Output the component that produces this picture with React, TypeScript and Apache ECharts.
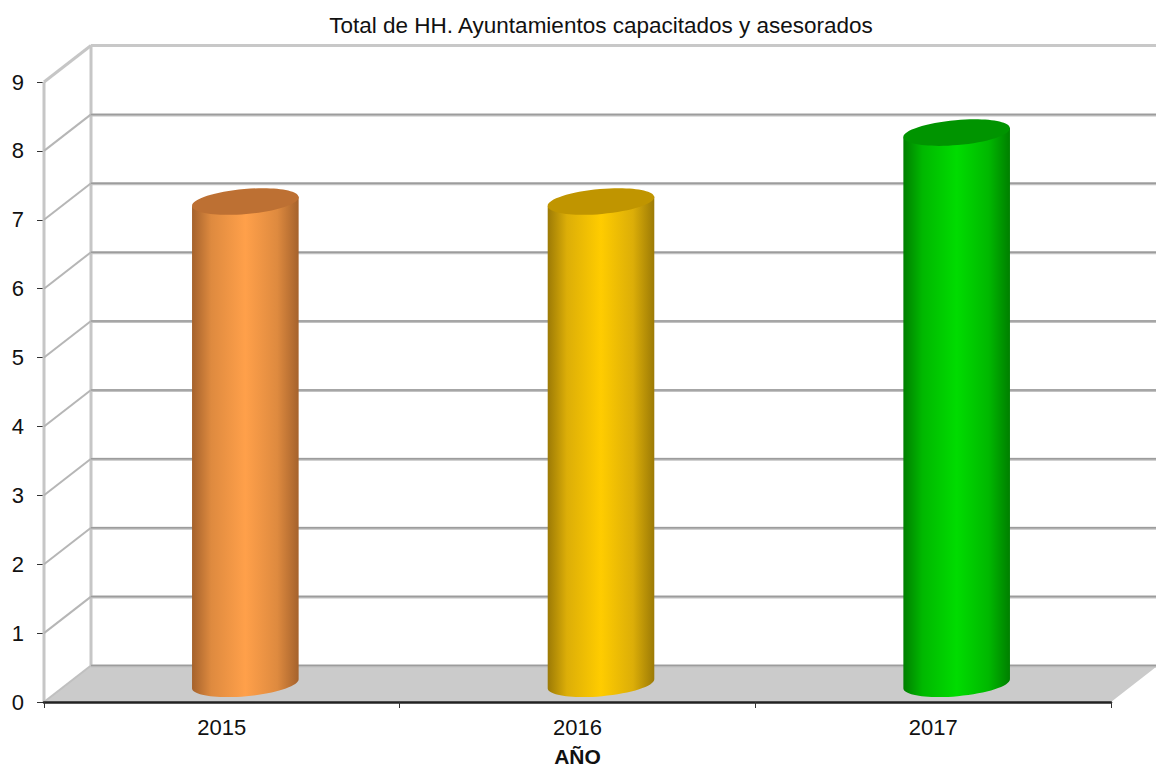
import React, { useEffect, useRef } from "react";
import * as echarts from "echarts";

const titleText = "Total de HH. Ayuntamientos capacitados y asesorados";
const axisName = "AÑO";
const categories = ["2015", "2016", "2017"];
const values = [7, 7, 8];
const yMax = 9;
const yTicks = [0, 1, 2, 3, 4, 5, 6, 7, 8, 9];

const palette = [
  { edge: "#a5622c", mid: "#de8a3f", core: "#ffa04a", cap: "#bd7033" },
  { edge: "#9c7a06", mid: "#dcae08", core: "#ffcc00", cap: "#c09500" },
  { edge: "#007f00", mid: "#00b800", core: "#00dc00", cap: "#009400" },
];

const DX = 47;
const DY = -36.5;
const RX = 53.5;
const RY = 12.5;
const TILT = (-5 * Math.PI) / 180;
const FONT = "'Liberation Sans', Arial, sans-serif";

function renderFrame(_: any, api: any) {
  const v = api.value(1);
  const p = api.coord([0, v]);
  const bw = api.size([1, 0])[0];
  const left = p[0] - bw / 2;
  const right = left + bw * categories.length;
  const y = p[1];
  const children: any[] = [];
  const line = (x1: number, y1: number, x2: number, y2: number, stroke: string, lineWidth: number) => ({
    type: "line",
    shape: { x1, y1, x2, y2 },
    style: { stroke, lineWidth, fill: "none" },
  });
  if (v === 0) {
    children.push({
      type: "polygon",
      shape: { points: [[left, y], [left + DX, y + DY], [right + DX, y + DY], [right, y]] },
      style: { fill: "#cbcbcb" },
    });
    const top = api.coord([0, yMax])[1];
    children.push(line(left, y, left, top, "#c6c6c6", 3));
    children.push(line(left + DX, y + DY, left + DX, top + DY, "#c6c6c6", 3));
  }
  if (v === yMax) {
    children.push(line(left, y, left + DX, y + DY, "#c6c6c6", 3));
    children.push(line(left + DX, y + DY, right + DX, y + DY, "#c8c8c8", 3));
  } else {
    children.push(line(left, y, left + DX, y + DY, v === 0 ? "#c0c0c0" : "#b6b6b6", 2));
    children.push(line(left + DX, y + DY + 0.5, right + DX, y + DY + 0.5, "#c2c2c2", 3));
    children.push(line(left + DX, y + DY, right + DX, y + DY, "#9c9c9c", 1.5));
  }
  return { type: "group", children };
}

// Ellipse arc as cubic segments, from parameter a to b (radians), in quarter steps.
function arcPath(cx: number, cy: number, a: number, b: number) {
  const cos = Math.cos(TILT);
  const sin = Math.sin(TILT);
  const pt = (u: number, w: number) => [cx + u * cos - w * sin, cy + u * sin + w * cos];
  const steps = Math.ceil(Math.abs(b - a) / (Math.PI / 2));
  const d = (b - a) / steps;
  const k = (4 / 3) * Math.tan(d / 4);
  let s = "";
  for (let i = 0; i < steps; i++) {
    const t0 = a + d * i;
    const t1 = t0 + d;
    const c1 = pt(RX * (Math.cos(t0) - k * Math.sin(t0)), RY * (Math.sin(t0) + k * Math.cos(t0)));
    const c2 = pt(RX * (Math.cos(t1) + k * Math.sin(t1)), RY * (Math.sin(t1) - k * Math.cos(t1)));
    const e = pt(RX * Math.cos(t1), RY * Math.sin(t1));
    s += `C ${c1[0]} ${c1[1]} ${c2[0]} ${c2[1]} ${e[0]} ${e[1]} `;
  }
  return s;
}

function renderCylinder(_: any, api: any) {
  const i = api.value(0);
  const c = palette[i];
  const top = api.coord([i, api.value(1)]);
  const base = api.coord([i, 0]);
  const cx = top[0] + DX / 2;
  const ty = top[1] + DY / 2;
  const by = base[1] + DY / 2;
  const ex = RX * Math.cos(TILT);
  const ey = RX * Math.sin(TILT);
  // parameter PI = left end, 0 = right end; going PI -> 0 through PI/2 passes the lower side
  const body =
    `M ${cx - ex} ${ty - ey} L ${cx - ex} ${by - ey} ` +
    arcPath(cx, by, Math.PI, 0) +
    `L ${cx + ex} ${ty + ey} Z`;
  const cap = `M ${cx - ex} ${ty - ey} ` + arcPath(cx, ty, Math.PI, 3 * Math.PI) + "Z";
  return {
    type: "group",
    children: [
      {
        type: "path",
        shape: { pathData: body },
        style: {
          fill: new echarts.graphic.LinearGradient(0, 0, 1, 0, [
            { offset: 0, color: c.edge },
            { offset: 0.18, color: c.mid },
            { offset: 0.5, color: c.core },
            { offset: 0.8, color: c.mid },
            { offset: 1, color: c.edge },
          ]),
        },
      },
      { type: "path", shape: { pathData: cap }, style: { fill: c.cap } },
    ],
  };
}

export default function App() {
  const ref = useRef<HTMLDivElement>(null);
  useEffect(() => {
    const chart = echarts.init(ref.current!, null, { renderer: "svg" });
    chart.setOption({
      animation: false,
      backgroundColor: "#ffffff",
      textStyle: { fontFamily: FONT },
      title: {
        text: titleText,
        left: 596,
        top: 9,
        textAlign: "center",
        textStyle: { fontFamily: FONT, fontSize: 22.5, fontWeight: "normal", color: "#111111" },
      },
      grid: { left: 44, top: 82, width: 1067, height: 620, outerBoundsMode: "none", containLabel: false },
      xAxis: {
        type: "category",
        data: categories,
        z: 5,
        axisLine: { show: true, lineStyle: { color: "#222222", width: 2.5 } },
        axisTick: { show: true, alignWithLabel: false, length: 6, lineStyle: { color: "#333333", width: 1 } },
        axisLabel: { fontFamily: FONT, fontSize: 22, color: "#111111", margin: 14 },
        name: axisName,
        nameLocation: "middle",
        nameGap: 44,
        nameTextStyle: { fontFamily: FONT, fontSize: 21, fontWeight: "bold", color: "#111111" },
      },
      yAxis: {
        type: "value",
        min: 0,
        max: yMax,
        interval: 1,
        splitLine: { show: false },
        axisLine: { show: false },
        axisTick: { show: true, length: 7, lineStyle: { color: "#333333", width: 1 } },
        axisLabel: { fontFamily: FONT, fontSize: 22, color: "#111111", margin: 20 },
      },
      series: [
        {
          type: "custom",
          z: 1,
          clip: false,
          silent: true,
          renderItem: renderFrame,
          encode: { x: 0, y: 1 },
          data: yTicks.map((v) => [0, v]),
        },
        {
          type: "custom",
          z: 2,
          clip: false,
          silent: true,
          renderItem: renderCylinder,
          encode: { x: 0, y: 1 },
          data: values.map((v, i) => [i, v]),
        },
      ],
    });
    return () => chart.dispose();
  }, []);
  return <div ref={ref} style={{ position: "fixed", left: 0, top: 0, width: 1156, height: 769 }} />;
}
